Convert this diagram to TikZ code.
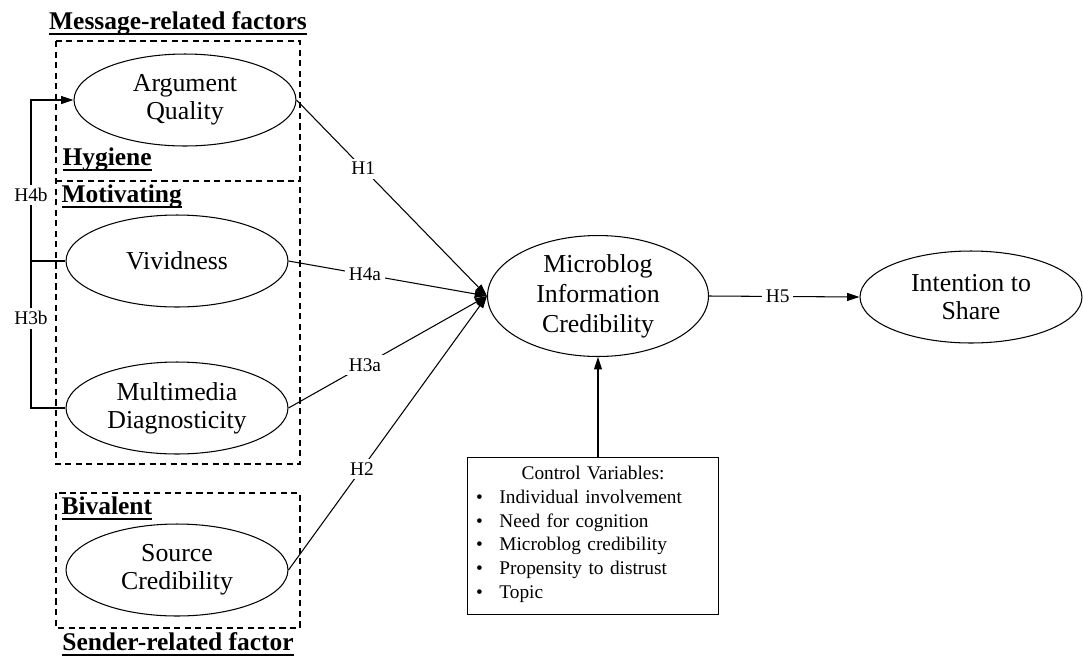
\documentclass[tikz,border=0pt]{standalone}
\usepackage{fontspec}
\setmainfont{Liberation Serif}
\newsavebox\ulsave
\newcommand\thickul[1]{\sbox\ulsave{#1}\rlap{\rule[-3.2pt]{\wd\ulsave}{1.1pt}}\usebox\ulsave}
\usetikzlibrary{arrows.meta,shapes.geometric,positioning}

\begin{document}
\begin{tikzpicture}[x=0.02cm,y=-0.02cm,line width=0.6pt,
    factor/.style={draw,ellipse,minimum width=4.44cm,minimum height=1.84cm,align=center,inner sep=0pt,font=\fontsize{14.7}{16}\selectfont},
    group/.style={draw,dash pattern=on 3.5pt off 2.5pt},
    title/.style={inner sep=0pt,font=\fontsize{14.5}{17}\selectfont\bfseries},
    hyp/.style={fill=white,inner sep=2pt,font=\fontsize{11}{13}\selectfont},
    link/.style={-{Triangle[length=7pt,width=4.5pt]}}]
    \useasboundingbox (0,0) rectangle (1083,657);
    % factor groups
    \draw [group] (56,41) rectangle (300,464);
    \draw [group] (56,181) -- (300,181);
    \draw [group] (56,493) rectangle (300,628);
    \node (msg) [title,anchor=base] at (178,29) {\thickul{Message-related factors}};
    \node (hyg) [title,anchor=base west] at (62,165) {\thickul{Hygiene}};
    \node (mot) [title,anchor=base west] at (61,202) {\thickul{Motivating}};
    \node (biv) [title,anchor=base west] at (61,514) {\thickul{Bivalent}};
    \node (snd) [title,anchor=base] at (178,650) {\thickul{Sender-related factor}};
    % constructs
    \node (aq) [factor] at (185,100) {Argument\\Quality};
    \node (viv) [factor] at (177,261) {Vividness};
    \node (mmd) [factor] at (177,408) {Multimedia\\Diagnosticity};
    \node (src) [factor] at (177,570) {Source\\Credibility};
    \node (mic) [factor,minimum width=4.42cm,minimum height=2.42cm,font=\fontsize{14.7}{17}\selectfont] at (598,296) {Microblog\\Information\\Credibility};
    \node (its) [factor] at (971,297) {Intention to\\Share};
    \node (ctrl) [draw,anchor=north,text width=133pt,align=left,inner xsep=4.8pt,inner ysep=5pt,font=\fontsize{11}{13.5}\selectfont] at (593,457)
        {{\centering Control Variables:\par}\noindent\begin{tabular}[t]{@{}c@{\hspace{9.4pt}}l@{}}
        \textbullet & Individual involvement\\
        \textbullet & Need for cognition\\
        \textbullet & Microblog credibility\\
        \textbullet & Propensity to distrust\\
        \textbullet & Topic
        \end{tabular}};
    % hypotheses
    \draw [link] (aq.east) -- node [hyp,pos=0.35] {H1} (mic.west);
    \draw [link] (viv.east) -- node [hyp,pos=0.385] {H4a} (mic.west);
    \draw [link] (mmd.east) -- node [hyp,pos=0.385] {H3a} (mic.west);
    \draw [link] (src.east) -- node [hyp,pos=0.37] {H2} (mic.west);
    \draw [link] (mic.east) -- node [hyp,pos=0.457] {H5} (its.west);
    \draw [link] (ctrl.north -| mic.south) -- (mic.south);
    % moderation
    \coordinate (spine) at (31,408);
    \draw (viv.west) -- (viv.west -| spine);
    \draw [link] (mmd.west) -- (mmd.west -| spine) -- node [hyp,pos=0.61] {H3b} (viv.west -| spine) -- node [hyp,pos=0.41] {H4b} (aq.west -| spine) -- (aq.west);
\end{tikzpicture}
\end{document}
